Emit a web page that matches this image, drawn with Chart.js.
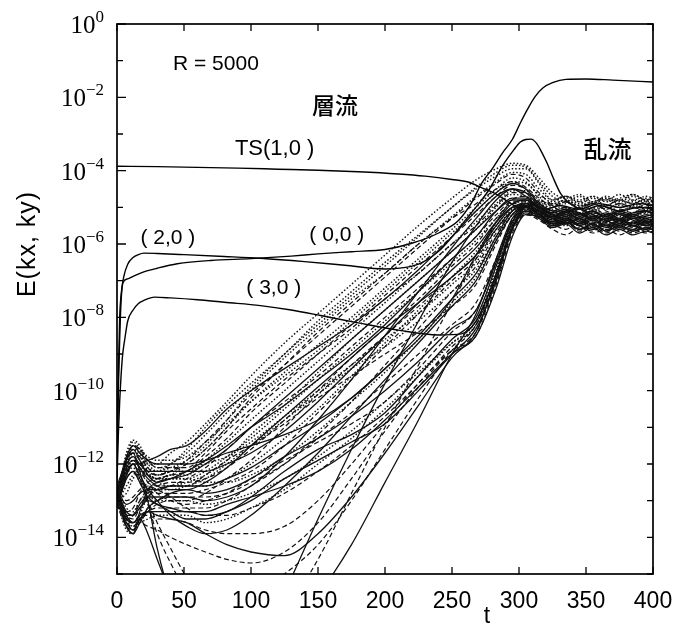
<!DOCTYPE html>
<html>
<head>
<meta charset="utf-8">
<script src="https://cdn.jsdelivr.net/npm/chart.js@4.4.1/dist/chart.umd.min.js"></script>
<style>
  html, body { margin: 0; padding: 0; background: #fff; }
  #wrap { width: 687px; height: 634px; }
</style>
</head>
<body>
<div id="wrap"><canvas id="c" width="687" height="634"></canvas></div>
<script>
// Energy spectrum E(kx, ky) versus time t, R = 5000.
// Values are stored as log10(E).

// x ticks and labelled decades
const X_TICKS = [0, 50, 100, 150, 200, 250, 300, 350, 400];
const Y_LABEL_EXP = [0, -2, -4, -6, -8, -10, -12, -14];

// Two-dimensional modes: TS(1,0), (0,0), (2,0), (3,0)
const TS_T = [0, 30, 60, 90, 120, 150, 180, 210, 230, 250, 262, 272, 282, 292, 300, 310, 320, 330, 345, 360, 375, 390, 400];
const TS_E = [-3.88, -3.89, -3.91, -3.93, -3.96, -3.99, -4.03, -4.09, -4.15, -4.24, -4.31, -4.46, -4.62, -4.85, -5.0, -4.95, -5.05, -4.95, -5.05, -4.9, -5.0, -4.9, -4.95];

const M00_T = [0, 1, 2, 3, 4.5, 8, 12, 20, 30, 45, 70, 100, 130, 150, 175, 200, 220, 240, 255, 265, 272, 280, 288, 295, 301, 306, 312, 318, 325, 335, 350, 370, 400];
const M00_E = [-12.0, -10.0, -8.6, -7.6, -7.05, -6.95, -6.88, -6.76, -6.66, -6.54, -6.45, -6.4, -6.33, -6.27, -6.21, -6.15, -5.98, -5.7, -5.35, -4.85, -4.35, -3.95, -3.5, -3.15, -2.7, -2.35, -1.98, -1.74, -1.6, -1.51, -1.5, -1.53, -1.58];

const M20_T = [0, 1, 2, 3, 5, 8, 12, 16, 20, 30, 50, 80, 107, 140, 170, 200, 225, 240, 249, 260, 270, 278, 288, 296, 301, 305, 309, 313, 317, 321, 325, 331, 340, 350, 360, 375, 390, 400];
const M20_E = [-12.3, -9.6, -8.0, -7.4, -6.9, -6.55, -6.37, -6.29, -6.25, -6.26, -6.29, -6.34, -6.39, -6.48, -6.58, -6.68, -6.55, -6.2, -5.85, -5.35, -4.9, -4.5, -3.85, -3.44, -3.22, -3.15, -3.14, -3.25, -3.5, -3.8, -4.15, -4.62, -4.95, -5.05, -4.95, -5.1, -5.0, -5.05];

const M30_T = [0, 1, 2, 4, 6, 8, 12, 16, 20, 28, 40, 60, 80, 107, 130, 152, 180, 210, 240, 257, 268, 278, 288, 296, 305, 315, 325, 340, 355, 370, 385, 400];
const M30_E = [-12.5, -11.2, -10.3, -9.1, -8.55, -8.1, -7.8, -7.62, -7.54, -7.45, -7.47, -7.52, -7.59, -7.68, -7.8, -7.95, -8.15, -8.35, -8.48, -8.45, -8.1, -7.3, -6.3, -5.5, -5.0, -5.1, -5.25, -5.1, -5.3, -5.15, -5.3, -5.2];

// Three-dimensional modes, all sampled on one time grid
const T_GRID = [0, 3, 7, 12, 17, 23, 30, 40, 52, 66, 82, 100, 125, 150, 175, 200, 225, 250, 268, 283, 295, 305, 315, 325, 335, 345, 355, 365, 375, 385, 395, 400];

const m01 = [-12.9,-12.5,-11.8,-11.4,-11.6,-12.0,-12.0,-11.7, -11.4,-10.9,-10.3,-9.6,-8.7,-7.9,-7.1,-6.3,-5.5,-4.75,-4.25,-3.95,-3.8,-3.85, -4.2,-4.6,-4.75,-4.65,-4.85,-4.7,-4.8,-4.65,-4.8,-4.7];
const m02 = [-13.0,-12.6,-12.0,-11.6,-11.8,-12.1,-12.2,-12.0, -11.7,-11.2,-10.6,-9.9,-9.0,-8.2,-7.4,-6.6,-5.8,-5.0,-4.5,-4.15,-3.95,-3.95, -4.35,-4.8,-4.7,-4.9,-4.75,-4.95,-4.8,-4.9,-4.75,-4.85];
const m03 = [-12.8,-12.5,-12.1,-11.7,-11.9,-12.2,-12.3,-12.2, -11.9,-11.4,-10.8,-10.1,-9.3,-8.5,-7.7,-6.9,-6.1,-5.3,-4.75,-4.35,-4.1,-4.2, -4.6,-4.95,-5.15,-5.0,-4.9,-5.1,-5.2,-5.0,-5.1,-5.05];
const m04 = [-12.7,-12.9,-12.8,-12.4,-12.2,-12.3,-12.4,-12.3, -12.0,-11.6,-11.0,-10.3,-9.5,-8.75,-8.0,-7.2,-6.4,-5.6,-5.0,-4.5,-4.2,-4.3, -4.7,-5.1,-5.0,-5.25,-5.1,-5.0,-5.25,-5.15,-5.0,-5.1];
const m05 = [-13.0,-12.8,-12.3,-12.0,-12.0,-11.9,-11.8,-11.6, -11.5,-11.1,-10.5,-10.0,-9.4,-8.8,-8.2,-7.5,-6.7,-5.8,-5.1,-4.6,-4.35,-4.5, -4.9,-5.1,-5.25,-5.05,-5.2,-5.35,-5.15,-5.3,-5.2,-5.25];
const m06 = [-12.9,-13.1,-13.3,-13.2,-12.8,-12.5,-12.4,-12.3, -12.2,-11.8,-11.3,-10.6,-9.8,-9.0,-8.2,-7.4,-6.6,-5.8,-5.2,-4.7,-4.4,-4.5, -4.85,-5.25,-5.4,-5.2,-5.35,-5.2,-5.45,-5.3,-5.45,-5.35];
const m07 = [-12.8,-13.2,-13.7,-13.9,-13.3,-12.7,-12.5,-12.4, -12.3,-12.0,-11.6,-11.0,-10.2,-9.4,-8.6,-7.8,-7.0,-6.2,-5.6,-5.1,-4.8,-4.8, -5.05,-5.3,-5.45,-5.3,-5.55,-5.4,-5.3,-5.5,-5.6,-5.45];
const m08 = [-12.6,-12.3,-11.9,-11.5,-11.7,-12.2,-12.4,-12.4, -12.4,-12.2,-11.8,-11.3,-10.5,-9.7,-8.9,-8.1,-7.3,-6.5,-5.9,-5.3,-4.9,-4.85, -4.95,-5.05,-4.9,-4.85,-5.05,-4.95,-5.1,-4.95,-4.9,-5.0];
const m09 = [-13.1,-13.3,-13.5,-13.4,-13.0,-12.7,-12.6,-12.5, -12.5,-12.4,-12.1,-11.6,-10.8,-10.0,-9.1,-8.3,-7.5,-6.6,-6.0,-5.3,-4.9,-4.9, -5.15,-5.45,-5.3,-5.5,-5.65,-5.45,-5.6,-5.5,-5.65,-5.55];
const m10 = [-12.7,-12.4,-12.0,-11.8,-12.0,-12.2,-12.2,-12.2, -12.2,-12.2,-12.0,-11.7,-11.1,-10.3,-9.4,-8.5,-7.6,-6.7,-6.1,-5.4,-5.0,-4.95, -5.1,-5.25,-5.15,-5.3,-5.15,-5.25,-5.35,-5.2,-5.3,-5.25];
const m11 = [-13.0,-13.4,-13.8,-13.9,-13.4,-12.9,-12.7,-12.6, -12.6,-12.6,-12.4,-12.0,-11.3,-10.5,-9.6,-8.7,-7.8,-6.9,-6.2,-5.5,-5.0,-4.9, -4.9,-4.95,-4.85,-5.0,-4.9,-4.8,-4.95,-4.85,-5.0,-4.9];
const m12 = [-12.9,-12.7,-12.4,-12.2,-12.4,-12.7,-12.8,-12.8, -12.8,-12.7,-12.5,-12.2,-11.5,-10.6,-9.7,-8.8,-7.9,-7.0,-6.4,-5.6,-5.1,-5.0, -5.2,-5.3,-5.45,-5.3,-5.45,-5.35,-5.5,-5.4,-5.3,-5.4];
const m13 = [-12.8,-13.0,-13.3,-13.4,-13.1,-12.9,-12.9,-12.9, -12.9,-13.0,-12.9,-12.6,-11.8,-10.8,-9.7,-8.5,-7.3,-6.1,-5.3,-4.7,-4.5,-4.7, -5.0,-5.25,-5.1,-5.35,-5.25,-5.4,-5.2,-5.35,-5.45,-5.3];
const m14 = [-12.7,-12.5,-12.1,-11.9,-12.1,-12.3,-12.4,-12.4, -12.4,-12.5,-12.5,-12.3,-11.8,-11.1,-10.3,-9.5,-8.6,-7.6,-6.9,-5.9,-5.2,-5.0, -5.0,-5.1,-5.0,-5.15,-5.05,-5.2,-5.1,-5.0,-5.15,-5.05];
const m15 = [-13.0,-13.3,-13.6,-13.7,-13.5,-13.3,-13.2,-13.2, -13.2,-13.2,-13.0,-12.6,-12.0,-11.2,-10.3,-9.3,-8.3,-7.3,-6.6,-5.7,-5.1,-4.95, -5.1,-5.35,-5.2,-5.3,-5.45,-5.3,-5.4,-5.25,-5.35,-5.3];
const m16 = [-12.6,-12.3,-11.8,-11.5,-11.7,-11.9,-12.0,-12.0, -12.0,-11.9,-11.7,-11.5,-11.2,-10.8,-10.2,-9.4,-8.5,-7.5,-6.8,-5.8,-5.1,-4.9, -5.0,-5.2,-5.1,-5.05,-5.25,-5.15,-5.3,-5.15,-5.1,-5.2];
const m17 = [-12.8,-12.6,-12.3,-12.0,-12.2,-12.5,-12.6,-12.6, -12.6,-12.3,-11.9,-11.5,-10.9,-10.2,-9.6,-9.0,-8.4,-7.7,-7.1,-6.0,-5.2,-5.0, -5.15,-5.3,-5.45,-5.3,-5.2,-5.4,-5.3,-5.45,-5.3,-5.35];
const m18 = [-12.9,-13.2,-13.5,-13.6,-13.4,-13.3,-13.3,-13.3, -13.3,-13.4,-13.3,-12.9,-12.2,-11.6,-11.2,-10.6,-9.6,-8.6,-8.0,-6.6,-5.4,-5.0, -5.2,-5.5,-5.35,-5.6,-5.45,-5.65,-5.5,-5.65,-5.55,-5.6];
const m19 = [-12.8,-12.6,-12.2,-11.9,-12.0,-12.2,-12.3,-12.2, -12.2,-12.0,-11.8,-11.4,-10.7,-10.0,-9.3,-8.6,-7.9,-7.1,-6.5,-5.6,-5.05,-4.9, -4.85,-4.9,-4.8,-4.95,-4.85,-4.95,-4.8,-4.9,-4.8,-4.85];
const m20 = [-13.1,-13.4,-13.7,-13.8,-13.5,-13.2,-13.0,-12.9, -12.9,-12.9,-12.8,-12.5,-12.0,-11.3,-10.6,-9.8,-9.0,-8.2,-7.6,-6.4,-5.4,-5.05, -5.25,-5.45,-5.6,-5.4,-5.6,-5.5,-5.65,-5.5,-5.6,-5.55];
const m21 = [-12.9,-13.2,-13.6,-13.8,-13.5,-13.3,-13.4,-13.5, -13.6,-13.9,-14.2,-14.4,-14.5,-13.9,-12.9,-11.7,-10.4,-9.1,-8.4,-6.9,-5.6,-5.15, -5.3,-5.55,-5.45,-5.7,-5.55,-5.75,-5.6,-5.75,-5.65,-5.7];
const m22 = [-12.8,-13.1,-13.5,-13.6,-13.4,-13.4,-13.5,-13.5, -13.6,-13.8,-13.9,-13.9,-13.7,-13.0,-12.0,-10.9,-9.8,-8.9,-8.5,-7.1,-5.7,-5.2, -5.35,-5.6,-5.75,-5.55,-5.7,-5.6,-5.75,-5.6,-5.7,-5.65];
const m23 = [-13.0,-12.8,-12.4,-12.2,-12.5,-12.9,-13.1,-13.2, -13.3,-13.3,-13.1,-12.9,-12.6,-12.2,-11.6,-10.8,-9.9,-9.0,-8.5,-7.2,-5.8,-5.2, -5.25,-5.45,-5.35,-5.5,-5.6,-5.45,-5.55,-5.4,-5.5,-5.45];
const m24 = [-12.7,-13.0,-13.4,-13.6,-13.6,-13.7,-13.8,-14.0, -14.2,-14.4,-14.6,-14.7,-14.4,-13.6,-12.4,-11.1,-9.9,-8.9,-8.4,-7.0,-5.6,-5.2, -5.3,-5.55,-5.4,-5.6,-5.5,-5.7,-5.55,-5.7,-5.6,-5.6];
const m25 = [-12.9,-12.7,-12.3,-12.1,-12.4,-12.8,-13.0,-13.0, -13.0,-13.1,-13.0,-12.8,-12.4,-11.8,-11.1,-10.3,-9.5,-8.7,-8.2,-6.8,-5.5,-5.1, -5.1,-5.2,-5.1,-5.3,-5.15,-5.25,-5.1,-5.25,-5.15,-5.2];
const m26 = [-12.6,-12.9,-13.1,-13.0,-12.8,-12.7,-12.7,-12.6, -12.6,-12.6,-12.4,-12.1,-11.5,-10.9,-10.2,-9.4,-8.6,-7.5,-6.3,-5.4,-4.9,-4.8, -5.0,-5.2,-5.3,-5.15,-5.3,-5.2,-5.35,-5.2,-5.3,-5.25];
const m27 = [-12.8,-12.4,-11.9,-11.7,-12.2,-13.0,-14.3,-15.6, -16.5,-17.0,-17.2,-17.2,-15.5,-13.5,-11.6,-9.8,-8.1,-6.5,-5.5,-4.8,-4.5,-4.6, -4.95,-5.15,-5.05,-5.25,-5.1,-5.3,-5.15,-5.25,-5.1,-5.15];
const m28 = [-12.9,-12.7,-12.3,-12.0,-12.4,-13.1,-13.9,-14.7, -15.5,-16.0,-16.3,-16.4,-16.0,-14.6,-12.8,-11.0,-9.3,-7.6,-6.4,-5.4,-4.8,-4.7, -5.0,-5.3,-5.2,-5.35,-5.45,-5.3,-5.4,-5.3,-5.4,-5.35];
const m29 = [-12.7,-13.0,-13.4,-13.6,-13.5,-13.9,-14.6,-15.5, -16.3,-16.8,-17.0,-17.0,-16.8,-15.6,-14.2,-12.5,-10.8,-9.0,-7.9,-6.4,-5.3,-5.0, -5.2,-5.4,-5.3,-5.5,-5.35,-5.55,-5.45,-5.5,-5.6,-5.5];
const m30 = [-13.0,-12.8,-12.4,-12.2,-12.5,-13.0,-13.6,-14.3, -15.1,-15.8,-15.9,-15.6,-15.0,-14.2,-13.0,-11.6,-10.2,-8.9,-8.2,-6.8,-5.5,-5.1, -5.3,-5.5,-5.4,-5.65,-5.5,-5.6,-5.5,-5.65,-5.5,-5.55];
const m31 = [-12.6,-12.8,-12.6,-12.3,-12.2,-12.3,-12.4,-12.3, -12.3,-11.9,-11.4,-10.8,-10.0,-9.2,-8.4,-7.6,-6.8,-6.0,-5.4,-4.9,-4.55,-4.55, -4.8,-4.9,-4.8,-4.95,-4.85,-4.75,-4.9,-4.8,-4.9,-4.85];
const m32 = [-12.9,-12.5,-11.9,-11.5,-11.6,-11.9,-12.1,-12.1, -12.1,-11.7,-11.1,-10.5,-9.7,-9.0,-8.3,-7.5,-6.8,-6.0,-5.5,-4.95,-4.6,-4.6, -4.9,-5.1,-5.0,-5.15,-5.0,-5.2,-5.05,-5.15,-5.0,-5.05];
const m33 = [-12.8,-12.5,-11.9,-11.5,-11.6,-11.8,-11.9,-11.9, -11.8,-11.4,-10.9,-10.3,-9.6,-8.9,-8.1,-7.3,-6.5,-5.7,-5.1,-4.6,-4.3,-4.35, -4.65,-4.85,-4.7,-4.8,-4.7,-4.85,-4.75,-4.65,-4.8,-4.75];
const m34 = [-13.0,-13.3,-13.7,-13.9,-13.6,-13.2,-13.0,-12.8, -12.7,-12.8,-12.7,-12.4,-11.8,-11.3,-10.7,-10.0,-9.2,-8.3,-7.8,-6.5,-5.4,-5.0, -5.15,-5.4,-5.3,-5.45,-5.3,-5.5,-5.35,-5.5,-5.4,-5.45];
const m35 = [-12.9,-13.2,-13.5,-13.7,-13.6,-13.5,-13.4,-13.4, -13.4,-13.6,-13.5,-13.2,-12.7,-12.0,-11.3,-10.5,-9.6,-8.7,-8.1,-6.7,-5.5,-5.1, -5.2,-5.35,-5.5,-5.35,-5.5,-5.4,-5.55,-5.4,-5.5,-5.45];
const m36 = [-12.7,-12.4,-12.0,-11.8,-12.1,-12.5,-12.8,-13.0, -13.1,-13.0,-12.8,-12.4,-11.9,-11.4,-10.9,-10.3,-9.4,-8.4,-7.8,-6.5,-5.35,-5.05, -5.2,-5.45,-5.35,-5.5,-5.4,-5.55,-5.45,-5.5,-5.4,-5.45];
const m37 = [-12.8,-12.4,-11.7,-11.35,-11.5,-11.9,-12.1,-12.0, -11.6,-11.0,-10.4,-9.8,-9.0,-8.1,-7.3,-6.5,-5.75,-5.0,-4.45,-4.05,-3.85,-3.9, -4.3,-4.7,-4.85,-4.7,-4.9,-4.75,-4.85,-4.7,-4.85,-4.8];
const m38 = [-12.9,-13.1,-13.4,-13.5,-13.2,-12.9,-12.7,-12.6, -12.4,-12.1,-11.6,-11.0,-10.3,-9.6,-8.8,-8.0,-7.2,-6.4,-5.8,-5.2,-4.85,-4.85, -5.05,-5.2,-5.35,-5.2,-5.35,-5.25,-5.4,-5.25,-5.35,-5.3];
const m39 = [-12.7,-12.5,-12.1,-11.9,-12.1,-12.4,-12.6,-12.7, -12.7,-12.5,-12.1,-11.5,-10.7,-9.9,-9.1,-8.3,-7.6,-6.9,-6.3,-5.5,-5.0,-4.9, -5.1,-5.3,-5.2,-5.4,-5.25,-5.35,-5.5,-5.3,-5.4,-5.35];
const m40 = [-13.0,-12.7,-12.2,-11.9,-12.0,-12.3,-12.5,-12.6, -12.5,-12.3,-11.9,-11.2,-10.4,-9.5,-8.6,-7.8,-7.0,-6.2,-5.6,-5.0,-4.65,-4.7, -4.9,-5.0,-4.85,-5.05,-4.9,-5.05,-4.9,-5.0,-4.85,-4.95];
const m41 = [-12.8,-13.0,-13.5,-13.8,-13.6,-13.3,-13.1,-13.0, -13.0,-12.8,-12.4,-11.9,-11.0,-10.1,-9.3,-8.5,-7.7,-6.9,-6.3,-5.6,-5.1,-5.0, -5.2,-5.4,-5.3,-5.5,-5.35,-5.5,-5.4,-5.55,-5.4,-5.45];
const m42 = [-12.9,-12.6,-12.2,-12.0,-12.3,-12.7,-13.0,-13.4, -13.7,-13.9,-13.8,-13.4,-12.6,-11.7,-10.7,-9.7,-8.7,-7.7,-7.0,-5.9,-5.2,-4.95, -5.1,-5.35,-5.25,-5.45,-5.3,-5.5,-5.35,-5.45,-5.3,-5.4];
const m43 = [-12.7,-12.9,-13.2,-13.3,-13.0,-12.8,-12.7,-12.7, -12.6,-12.4,-12.0,-11.5,-10.8,-10.1,-9.4,-8.8,-8.1,-7.3,-6.7,-5.8,-5.2,-5.0, -5.05,-5.15,-5.05,-5.2,-5.1,-5.25,-5.1,-5.2,-5.05,-5.1];
const m44 = [-13.0,-12.7,-12.1,-11.7,-11.8,-12.1,-12.3,-12.2, -12.0,-11.6,-11.0,-10.2,-9.3,-8.4,-7.6,-6.8,-6.0,-5.3,-4.9,-4.5,-4.3,-4.45, -4.75,-4.95,-4.85,-5.0,-4.9,-5.05,-4.9,-5.0,-4.95,-4.95];
const m45 = [-12.8,-13.1,-13.4,-13.4,-13.2,-13.0,-13.1,-13.3, -13.5,-13.5,-13.3,-13.0,-12.4,-11.9,-11.4,-10.9,-10.0,-9.0,-8.3,-7.0,-5.6,-5.1, -5.25,-5.5,-5.4,-5.6,-5.45,-5.65,-5.5,-5.6,-5.45,-5.5];
const m46 = [-12.9,-12.6,-12.0,-11.6,-11.7,-12.0,-12.2,-12.1, -11.9,-11.5,-10.8,-10.0,-9.1,-8.3,-7.5,-6.8,-6.0,-5.25,-4.7,-4.3,-4.05,-4.1, -4.5,-4.8,-4.7,-4.85,-4.7,-4.8,-4.65,-4.8,-4.7,-4.75];
const m47 = [-12.6,-12.8,-13.0,-12.9,-12.7,-12.6,-12.7,-12.9, -13.2,-13.4,-13.4,-13.2,-12.8,-12.2,-11.5,-10.7,-9.8,-8.8,-8.2,-6.9,-5.5,-5.1, -5.2,-5.45,-5.3,-5.5,-5.4,-5.55,-5.4,-5.5,-5.35,-5.45];
const m48 = [-12.7,-12.4,-11.9,-11.6,-11.9,-12.3,-12.5,-12.4, -12.2,-11.9,-11.5,-11.0,-10.4,-9.7,-9.0,-8.2,-7.3,-6.4,-5.8,-5.1,-4.75,-4.75, -5.0,-5.15,-5.05,-5.2,-5.1,-5.25,-5.1,-5.2,-5.1,-5.15];

const MODES_3D = [m01,m02,m03,m04,m05,m06,m07,m08,m09,m10,m11,m12,m13,m14,m15,m16,
                  m17,m18,m19,m20,m21,m22,m23,m24,m25,m26,m27,m28,m29,m30,m31,m32,
                  m33,m34,m35,m36,m37,m38,m39,m40,m41,m42,m43,m44,m45,m46,m47,m48];
const MODE_LINE = ['dot','dot','dash','dot','solid','dash','solid','dot','dash','solid','dot','dash',
                   'solid','dot','dash','solid','dash','solid','dot','dash','solid','dash','solid','dash',
                   'dot','solid','solid','dash','solid','dash','dot','dash','dot','solid','dot','dash',
                   'dot','dash','solid','dot','dash','solid','dot','dash','solid','dot','dash','solid'];

const LINE_STYLE = {
  solid: { borderDash: [], borderWidth: 1.3 },
  dash:  { borderDash: [5, 3], borderWidth: 1.2 },
  dot:   { borderDash: [1.5, 2], borderWidth: 1.45 }
};

const toPoints = (ts, es) => ts.map((t, i) => ({ x: t, y: Math.pow(10, es[i]) }));

const datasets = [];
MODES_3D.forEach((row, k) => {
  const s = LINE_STYLE[MODE_LINE[k]];
  datasets.push({
    data: toPoints(T_GRID, row),
    borderColor: '#111',
    borderWidth: s.borderWidth,
    borderDash: s.borderDash,
    pointRadius: 0,
    cubicInterpolationMode: 'monotone',
    fill: false
  });
});
[[TS_T, TS_E], [M00_T, M00_E], [M20_T, M20_E], [M30_T, M30_E]].forEach(([ts, es]) => {
  datasets.push({
    data: toPoints(ts, es),
    borderColor: '#000',
    borderWidth: 1.4,
    pointRadius: 0,
    cubicInterpolationMode: 'monotone',
    fill: false
  });
});

const SANS = '"Liberation Sans", Arial, sans-serif';
const SERIF = '"Liberation Serif", "Times New Roman", serif';
const CJK = '"Noto Sans CJK JP", "Noto Sans CJK SC", sans-serif';

// frame, inward ticks, tick labels and annotations
const axesAndNotes = {
  id: 'axesAndNotes',
  afterDatasetsDraw(chart) {
    const { ctx, chartArea: a, scales: { x, y } } = chart;
    ctx.save();
    ctx.strokeStyle = '#000';
    ctx.fillStyle = '#000';

    ctx.lineWidth = 1.7;
    ctx.strokeRect(a.left, a.top, a.right - a.left, a.bottom - a.top);

    ctx.lineWidth = 1.3;
    ctx.beginPath();
    X_TICKS.forEach(t => {
      const px = x.getPixelForValue(t);
      ctx.moveTo(px, a.bottom); ctx.lineTo(px, a.bottom - 7);
      ctx.moveTo(px, a.top); ctx.lineTo(px, a.top + 7);
    });
    for (let e = -15; e <= 0; e++) {
      const py = y.getPixelForValue(Math.pow(10, e));
      const len = (e % 2 === 0) ? 9 : 6;
      ctx.moveTo(a.left, py); ctx.lineTo(a.left + len, py);
      ctx.moveTo(a.right, py); ctx.lineTo(a.right - 6, py);
    }
    ctx.stroke();

    // x tick labels
    ctx.font = '23px ' + SANS;
    ctx.textAlign = 'center';
    ctx.textBaseline = 'alphabetic';
    X_TICKS.forEach(t => ctx.fillText(String(t), x.getPixelForValue(t), 608));

    // y tick labels 10^n
    const rightEdge = a.left - 13;
    Y_LABEL_EXP.forEach(e => {
      const py = y.getPixelForValue(Math.pow(10, e));
      const expText = e === 0 ? '0' : '\u2212' + Math.abs(e);
      ctx.font = '17px ' + SERIF;
      const ew = ctx.measureText(expText).width;
      ctx.textAlign = 'left';
      ctx.fillText(expText, rightEdge - ew, py - 2);
      ctx.font = '25px ' + SERIF;
      ctx.textAlign = 'right';
      ctx.fillText('10', rightEdge - ew, py + 9);
    });

    // axis titles
    ctx.font = '23px ' + SANS;
    ctx.textAlign = 'center';
    ctx.fillText('t', 487, 623);
    ctx.save();
    ctx.translate(35, 244);
    ctx.rotate(-Math.PI / 2);
    ctx.font = '25px ' + SANS;
    ctx.letterSpacing = '1px';
    ctx.fillText('E(kx, ky)', 0, 0);
    ctx.restore();

    // annotations placed in data coordinates
    const at = (t, e) => [x.getPixelForValue(t), y.getPixelForValue(Math.pow(10, e))];
    ctx.textBaseline = 'middle';
    const note = (text, t, e, font, align) => {
      const [px, py] = at(t, e);
      ctx.font = font;
      ctx.textAlign = align;
      ctx.fillText(text, px, py);
    };
    note('R = 5000', 41.8, -1.10, '21px ' + SANS, 'left');
    note('層流', 162.7, -2.22, '500 23px ' + CJK, 'center');
    note('TS(1,0 )', 88, -3.40, '22px ' + SANS, 'left');
    note('乱流', 366, -3.41, '500 24px ' + CJK, 'center');
    note('( 2,0 )', 38, -5.85, '21px ' + SANS, 'center');
    note('( 0,0 )', 164, -5.75, '21px ' + SANS, 'center');
    note('( 3,0 )', 117, -7.2, '21px ' + SANS, 'center');
    ctx.restore();
  }
};

new Chart(document.getElementById('c'), {
  type: 'line',
  data: { datasets },
  options: {
    responsive: false,
    devicePixelRatio: 1,
    animation: false,
    events: [],
    layout: { padding: { left: 117, right: 34, top: 24, bottom: 60 } },
    plugins: { legend: { display: false }, tooltip: { enabled: false } },
    scales: {
      x: { type: 'linear', min: 0, max: 400, display: false },
      y: { type: 'logarithmic', min: 1e-15, max: 1, display: false }
    }
  },
  plugins: [axesAndNotes]
});
</script>
</body>
</html>
